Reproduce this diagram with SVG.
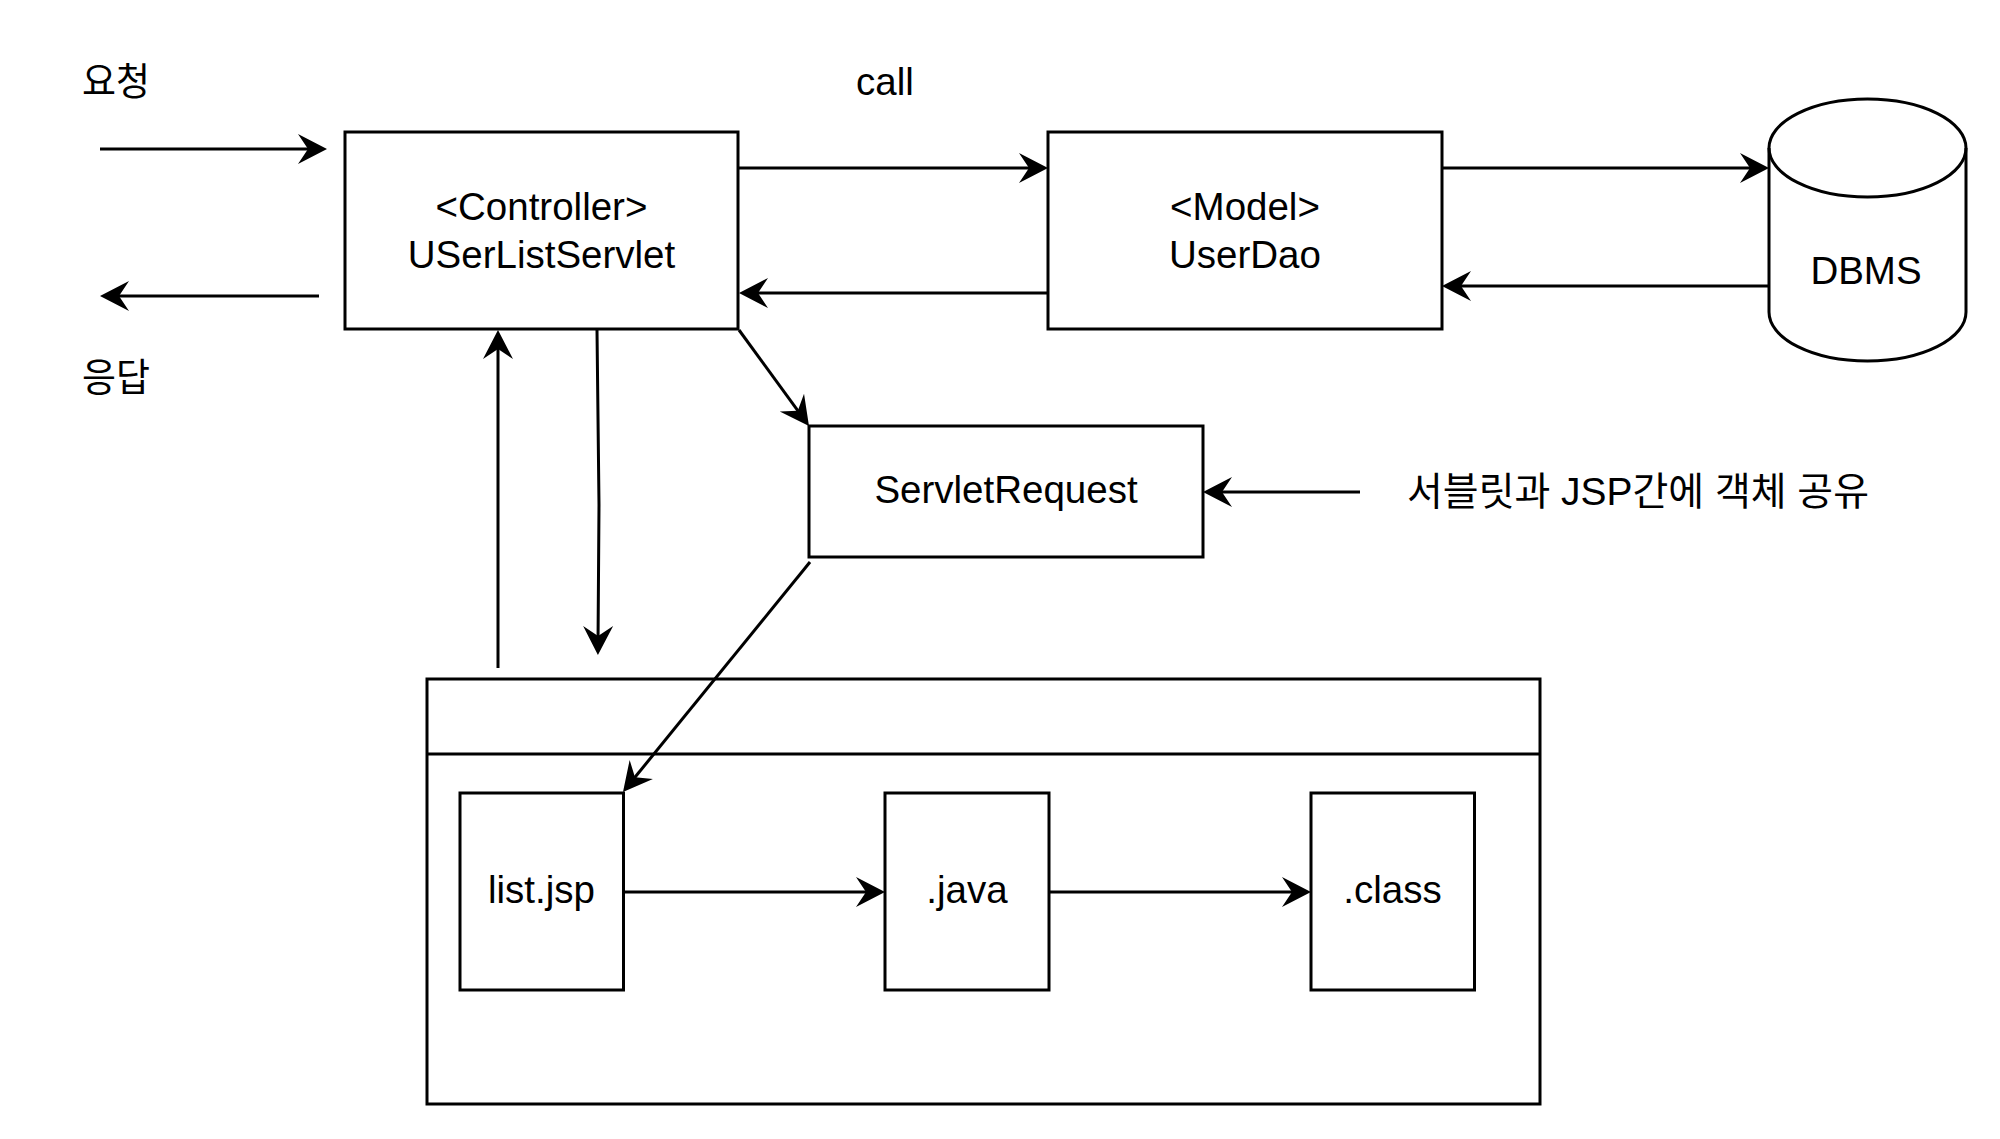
<svg xmlns="http://www.w3.org/2000/svg" width="2000" height="1139" viewBox="0 0 2000 1139">
  <defs>
    <marker id="arrow" viewBox="-20 -16 32 32" refX="0" refY="0" markerWidth="32" markerHeight="32" markerUnits="userSpaceOnUse" orient="auto">
      <path d="M10,0 L-19,-15 L-9,0 L-19,15 Z" fill="#000"/>
    </marker>
  </defs>
  <style>
    .box { fill: #fff; stroke: #000; stroke-width: 3; }
    .edge { fill: none; stroke: #000; stroke-width: 3; marker-end: url(#arrow); }
    .lbl { font-family: "Liberation Sans", Arial, "Noto Sans CJK KR", sans-serif; font-size: 38.5px; fill: #000; }
    .kr { font-family: "Noto Sans CJK KR", "Liberation Sans", sans-serif; font-size: 38.5px; fill: #000; }
    .mid { text-anchor: middle; }
  </style>
  <rect x="0" y="0" width="2000" height="1139" fill="#fff"/>

  <g id="label-request">
    <text class="kr" x="82" y="95" textLength="68" lengthAdjust="spacingAndGlyphs">요청</text>
  </g>
  <g id="label-response">
    <text class="kr" x="82" y="391" textLength="68" lengthAdjust="spacingAndGlyphs">응답</text>
  </g>
  <g id="label-call">
    <text class="lbl" x="856" y="94.5">call</text>
  </g>

  <g id="controller">
    <rect class="box" x="345" y="132" width="393" height="197"/>
    <text class="lbl mid" x="541.5" y="219.5">&lt;Controller&gt;</text>
    <text class="lbl mid" x="541.5" y="268">USerListServlet</text>
  </g>

  <g id="model">
    <rect class="box" x="1048" y="132" width="394" height="197"/>
    <text class="lbl mid" x="1245" y="219.5">&lt;Model&gt;</text>
    <text class="lbl mid" x="1245" y="268">UserDao</text>
  </g>

  <g id="dbms">
    <path class="box" d="M1769,148 A98.5,49 0 0 1 1966,148 L1966,312 A98.5,49 0 0 1 1769,312 Z"/>
    <path class="box" style="fill:none" d="M1769,148 A98.5,49 0 0 0 1966,148"/>
    <text class="lbl mid" x="1866" y="283.5">DBMS</text>
  </g>

  <g id="servlet-request">
    <rect class="box" x="809" y="426" width="394" height="131"/>
    <text class="lbl mid" x="1006" y="503">ServletRequest</text>
  </g>

  <g id="label-share">
    <text class="lbl" x="1407" y="504.5" textLength="462" lengthAdjust="spacingAndGlyphs">서블릿과 JSP간에 객체 공유</text>
  </g>

  <g id="container">
    <rect class="box" x="427" y="679" width="1113" height="425"/>
    <line x1="427" y1="754" x2="1540" y2="754" stroke="#000" stroke-width="3"/>
  </g>

  <g id="list-jsp">
    <rect class="box" x="460" y="793" width="163.5" height="197"/>
    <text class="lbl mid" x="541.5" y="903">list.jsp</text>
  </g>
  <g id="java">
    <rect class="box" x="885" y="793" width="164" height="197"/>
    <text class="lbl mid" x="967" y="903">.java</text>
  </g>
  <g id="class">
    <rect class="box" x="1311" y="793" width="163.5" height="197"/>
    <text class="lbl mid" x="1392.5" y="903">.class</text>
  </g>

  <g id="connectors">
    <line class="edge" x1="100" y1="149" x2="317" y2="149"/>
    <line class="edge" x1="319" y1="296" x2="110" y2="296"/>
    <line class="edge" x1="739" y1="168" x2="1038" y2="168"/>
    <line class="edge" x1="1048" y1="293" x2="749" y2="293"/>
    <line class="edge" x1="1442" y1="168" x2="1759" y2="168"/>
    <line class="edge" x1="1769" y1="286" x2="1452" y2="286"/>
    <line class="edge" x1="739" y1="330" x2="803.1" y2="417.9"/>
    <line class="edge" x1="1360" y1="492" x2="1213" y2="492"/>
    <line class="edge" x1="810" y1="562" x2="629.3" y2="784.2"/>
    <line class="edge" x1="498" y1="668" x2="498" y2="340"/>
    <polyline class="edge" points="597,330 599,505 598,645"/>
    <line class="edge" x1="623.5" y1="892" x2="875" y2="892"/>
    <line class="edge" x1="1049" y1="892" x2="1301" y2="892"/>
  </g>
</svg>
